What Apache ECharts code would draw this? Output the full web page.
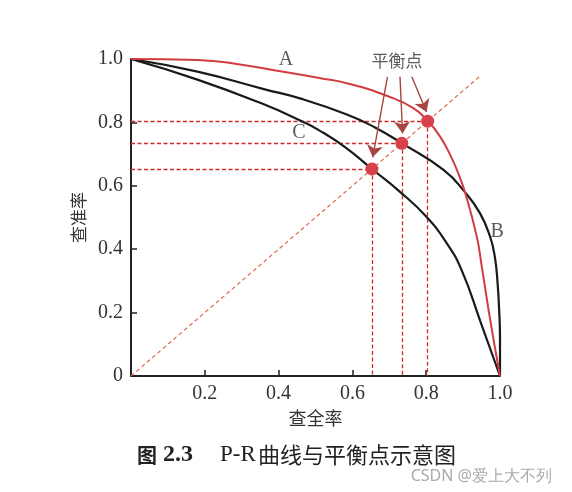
<!DOCTYPE html>
<html>
<head>
<meta charset="utf-8">
<script src="https://cdn.jsdelivr.net/npm/echarts@6/dist/echarts.min.js"></script>
<style>
  html, body { margin: 0; padding: 0; background: #fff; }
  #app { width: 572px; height: 492px; }
</style>
</head>
<body>
<div id="app"></div>
<script>
// P-R curves as [recall, precision]
var curveA = [[0, 1.0], [0.18, 0.997], [0.30, 0.982], [0.40, 0.962], [0.51, 0.94], [0.59, 0.922],
  [0.70, 0.881], [0.765, 0.845], [0.804, 0.805], [0.835, 0.76], [0.864, 0.70], [0.885, 0.645],
  [0.905, 0.58], [0.937, 0.44], [0.95, 0.35], [0.973, 0.18], [1.0, 0]];
var curveB = [[0, 1.0], [0.18, 0.96], [0.36, 0.905], [0.46, 0.875], [0.585, 0.825], [0.66, 0.785],
  [0.736, 0.733], [0.847, 0.65], [0.905, 0.58], [0.946, 0.513], [0.973, 0.44], [0.986, 0.376],
  [0.993, 0.30], [0.998, 0.20], [1.0, 0.12], [1.0, 0]];
var curveC = [[0, 1.0], [0.18, 0.935], [0.36, 0.857], [0.46, 0.805], [0.51, 0.775], [0.58, 0.722],
  [0.653, 0.653], [0.729, 0.581], [0.80, 0.503], [0.855, 0.42], [0.896, 0.334], [0.946, 0.175],
  [1.0, 0]];

// break-even points (P = R)
var breakEven = [0.653, 0.734, 0.804];
var diagonalEnd = 0.95;

// text labels on the plot
var labelNames = ["A", "B", "C", "平衡点"];
var labelX = [0.42, 0.992, 0.455, 0.721];
var labelY = [0.997, 0.454, 0.767, 0.994];

// arrows from "平衡点" to each point
var arrowFrom = [[0.695, 0.944], [0.729, 0.944], [0.761, 0.944]];
var arrowTo = [[0.655, 0.69], [0.736, 0.765], [0.801, 0.833]];

var xTicks = ["", "0.2", "0.4", "0.6", "0.8", "1.0"];
var yTicks = ["0", "0.2", "0.4", "0.6", "0.8", "1.0"];

var serif = "Liberation Serif";
var cjk = "Noto Sans CJK SC";

var chart = echarts.init(document.getElementById("app"));

var guides = [];
breakEven.forEach(function (p) {
  guides.push({ coords: [[0, p], [p, p]] });
  guides.push({ coords: [[p, p], [p, 0]] });
});

var labelData = labelNames.map(function (n, i) {
  var isCjk = n.length > 1;
  return {
    value: [labelX[i], labelY[i]],
    label: {
      formatter: n,
      fontFamily: isCjk ? cjk : serif,
      fontSize: isCjk ? 17 : 20
    }
  };
});

var option = {
  backgroundColor: "#fff",
  animation: false,
  title: [
    {
      text: "{b1|图}{b2|2.3}{s|P-R}{c|曲线与平衡点示意图}",
      left: 137,
      top: 443,
      padding: 0,
      textStyle: {
        fontWeight: "normal",
        rich: {
          b1: { fontFamily: cjk, fontWeight: "bold", fontSize: 20, color: "#222", width: 26 },
          b2: { fontFamily: serif, fontWeight: "bold", fontSize: 24, color: "#222", width: 57 },
          s: { fontFamily: serif, fontWeight: "normal", fontSize: 23, color: "#222", width: 38 },
          c: { fontFamily: cjk, fontWeight: "normal", fontSize: 22, color: "#222" }
        }
      }
    },
    {
      text: "CSDN @爱上大不列",
      right: 15,
      top: 463,
      textStyle: { fontFamily: "Noto Sans", fontSize: 16, fontWeight: "normal", color: "#aaa" }
    }
  ],
  grid: { left: 131, right: 72, top: 59, bottom: 116 },
  xAxis: {
    type: "value",
    min: 0,
    max: 1,
    interval: 0.2,
    name: "查全率",
    nameLocation: "middle",
    nameGap: 22,
    nameTextStyle: { fontFamily: cjk, fontSize: 18, color: "#333" },
    axisLine: { lineStyle: { color: "#222", width: 2 } },
    axisTick: { inside: true, length: 6, lineStyle: { color: "#222", width: 1.5 } },
    splitLine: { show: false },
    axisLabel: {
      margin: 8,
      fontFamily: serif,
      fontSize: 20,
      color: "#333",
      formatter: function (v) { return xTicks[Math.round(v * 5)]; }
    }
  },
  yAxis: {
    type: "value",
    min: 0,
    max: 1,
    interval: 0.2,
    name: "查准率",
    nameLocation: "middle",
    nameRotate: 90,
    nameGap: 44,
    nameTextStyle: { fontFamily: cjk, fontSize: 17, color: "#333" },
    axisLine: { lineStyle: { color: "#222", width: 2 } },
    axisTick: { inside: true, length: 6, lineStyle: { color: "#222", width: 1.5 } },
    splitLine: { show: false },
    axisLabel: {
      margin: 8,
      fontFamily: serif,
      fontSize: 20,
      color: "#333",
      formatter: function (v) { return yTicks[Math.round(v * 5)]; }
    }
  },
  series: [
    {
      type: "lines",
      coordinateSystem: "cartesian2d",
      z: 1,
      data: [{ coords: [[0, 0], [diagonalEnd, diagonalEnd]] }],
      lineStyle: { color: "#e0684e", width: 1.2, type: [4, 3], opacity: 1 }
    },
    {
      type: "lines",
      coordinateSystem: "cartesian2d",
      z: 1,
      data: guides,
      lineStyle: { color: "#d02a2a", width: 1.3, type: [4, 2.5], opacity: 1 }
    },
    {
      type: "line",
      data: curveB,
      smooth: 0.5,
      showSymbol: false,
      z: 3,
      lineStyle: { color: "#1a1a1a", width: 2.2 }
    },
    {
      type: "line",
      data: curveC,
      smooth: 0.5,
      showSymbol: false,
      z: 3,
      lineStyle: { color: "#1a1a1a", width: 2.2 }
    },
    {
      type: "line",
      data: curveA,
      smooth: 0.5,
      showSymbol: false,
      z: 4,
      lineStyle: { color: "#d23c40", width: 2 }
    },
    {
      type: "lines",
      coordinateSystem: "cartesian2d",
      z: 5,
      symbol: ["none", "arrow"],
      symbolSize: [8, 12],
      data: arrowFrom.map(function (f, i) { return { coords: [f, arrowTo[i]] }; }),
      lineStyle: { color: "#a84444", width: 1.4, opacity: 1 }
    },
    {
      type: "scatter",
      z: 6,
      symbolSize: 13,
      data: breakEven.map(function (p) { return [p, p]; }),
      itemStyle: { color: "#d8404a", opacity: 1 }
    },
    {
      type: "scatter",
      z: 6,
      symbolSize: 0,
      data: labelData,
      label: { show: true, position: "inside", color: "#333" }
    }
  ]
};

chart.setOption(option);
</script>
</body>
</html>
